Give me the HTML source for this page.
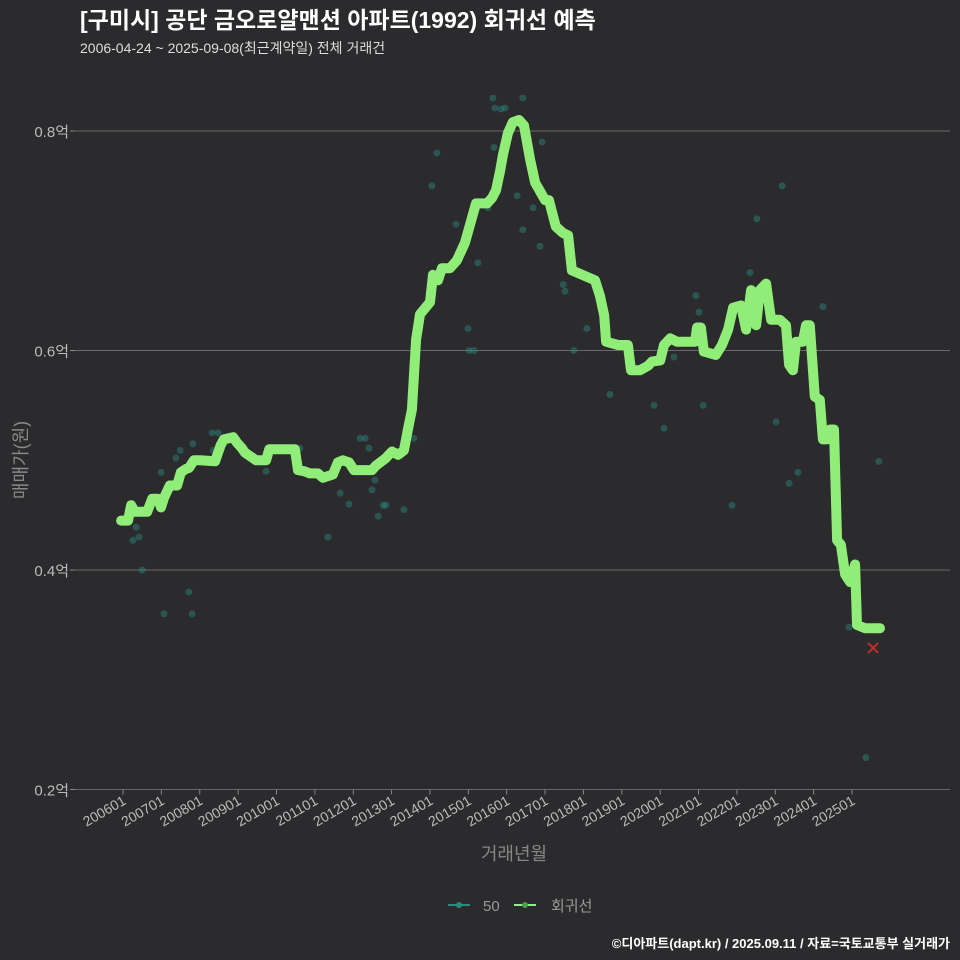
<!DOCTYPE html>
<html><head><meta charset="utf-8">
<style>
body{margin:0;background:#2b2a2c;}
svg{display:block;font-family:"Liberation Sans","Noto Sans CJK KR",sans-serif;}
</style></head>
<body>
<svg id="chart" width="960" height="960" viewBox="0 0 960 960">
<rect width="960" height="960" fill="#2b2a2c"/>
<text x="80" y="28" fill="#ffffff" font-size="23" font-weight="bold">[구미시] 공단 금오로얄맨션 아파트(1992) 회귀선 예측</text>
<text x="80" y="53" fill="#dddddd" font-size="14">2006-04-24 ~ 2025-09-08(최근계약일) 전체 거래건</text>
<g id="grid"></g><g id="axes"></g><g id="dots"></g><g id="line"></g><g id="marker"></g>
<text x="27" y="460" fill="#888" font-size="18" transform="rotate(-90 27 460)" text-anchor="middle">매매가(원)</text>
<text x="514" y="860" fill="#888" font-size="18" text-anchor="middle">거래년월</text>
<g>
<g><line x1="448" y1="905" x2="470" y2="905" stroke="#2a8a80" stroke-width="2"/><circle cx="459" cy="905" r="3" fill="#2a8a80"/><text x="483" y="911" fill="#999" font-size="15">50</text></g>
<g><line x1="514" y1="905" x2="536" y2="905" stroke="#90ee90" stroke-width="2"/><circle cx="525" cy="905" r="3" fill="#4e9a4e"/><text x="551" y="911" fill="#999" font-size="15">회귀선</text></g>
</g>
<text x="950" y="948" fill="#ffffff" font-size="13" font-weight="bold" text-anchor="end">©디아파트(dapt.kr) / 2025.09.11 / 자료=국토교통부 실거래가</text>
</svg>
<script>
const yTicks=[0.2,0.4,0.6,0.8];
const xTickYears=[2006,2007,2008,2009,2010,2011,2012,2013,2014,2015,2016,2017,2018,2019,2020,2021,2022,2023,2024,2025];
const lineYears=[2005.95,2006.13,2006.21,2006.31,2006.63,2006.76,2006.91,2006.99,2007.07,2007.22,2007.41,2007.51,2007.64,2007.72,2007.85,2008.01,2008.40,2008.55,2008.63,2008.87,2008.97,2009.10,2009.18,2009.47,2009.73,2009.81,2010.48,2010.56,2010.72,2010.87,2011.08,2011.21,2011.47,2011.60,2011.73,2011.89,2012.02,2012.07,2012.49,2012.59,2012.85,2013.01,2013.17,2013.32,2013.43,2013.53,2013.64,2013.74,2014.00,2014.08,2014.21,2014.31,2014.52,2014.70,2014.91,2015.20,2015.49,2015.62,2015.72,2015.83,2015.90,2016.03,2016.16,2016.32,2016.45,2016.61,2016.74,2017.00,2017.10,2017.28,2017.47,2017.60,2017.70,2018.30,2018.43,2018.54,2018.59,2018.90,2019.16,2019.24,2019.47,2019.68,2019.79,2020.00,2020.10,2020.26,2020.44,2020.91,2020.96,2021.06,2021.14,2021.45,2021.61,2021.77,2021.90,2022.11,2022.24,2022.37,2022.50,2022.60,2022.76,2022.89,2023.12,2023.28,2023.36,2023.46,2023.54,2023.72,2023.80,2023.90,2024.03,2024.16,2024.24,2024.35,2024.43,2024.53,2024.61,2024.71,2024.82,2024.95,2025.08,2025.13,2025.34,2025.73];
const lineValues=[0.445,0.445,0.459,0.453,0.453,0.465,0.465,0.457,0.466,0.477,0.477,0.489,0.492,0.493,0.500,0.500,0.499,0.514,0.519,0.521,0.516,0.511,0.507,0.500,0.500,0.510,0.510,0.491,0.490,0.488,0.488,0.484,0.487,0.498,0.500,0.498,0.491,0.491,0.491,0.495,0.502,0.508,0.505,0.509,0.529,0.546,0.610,0.633,0.644,0.669,0.664,0.675,0.675,0.682,0.698,0.734,0.734,0.739,0.746,0.764,0.778,0.798,0.808,0.810,0.805,0.774,0.753,0.737,0.737,0.713,0.707,0.705,0.673,0.664,0.650,0.632,0.608,0.605,0.605,0.582,0.582,0.586,0.590,0.591,0.605,0.611,0.608,0.608,0.621,0.621,0.599,0.596,0.605,0.619,0.639,0.641,0.619,0.655,0.623,0.655,0.661,0.628,0.628,0.623,0.587,0.582,0.608,0.608,0.623,0.623,0.558,0.555,0.519,0.519,0.528,0.528,0.427,0.423,0.396,0.389,0.405,0.350,0.347,0.347];
const dotYears=[2006.26,2006.34,2006.42,2006.50,2007.07,2006.99,2007.38,2007.49,2007.82,2008.32,2008.48,2008.35,2007.72,2007.80,2009.73,2010.61,2011.34,2011.66,2011.89,2012.18,2012.31,2012.41,2012.49,2012.57,2012.65,2012.78,2012.85,2013.32,2013.58,2014.05,2014.18,2014.68,2014.99,2015.02,2015.15,2015.25,2015.51,2015.64,2015.69,2015.85,2015.96,2015.67,2016.27,2016.42,2016.42,2016.69,2016.87,2016.92,2017.47,2017.52,2017.75,2018.09,2018.69,2019.84,2020.10,2020.36,2020.93,2021.01,2021.12,2021.87,2022.34,2022.52,2022.86,2023.02,2023.18,2023.36,2023.59,2024.24,2024.92,2025.36,2025.70];
const dotValues=[0.427,0.439,0.430,0.400,0.360,0.489,0.502,0.509,0.515,0.525,0.525,0.509,0.380,0.360,0.490,0.511,0.430,0.470,0.460,0.520,0.520,0.511,0.473,0.482,0.449,0.459,0.459,0.455,0.520,0.750,0.780,0.715,0.620,0.600,0.600,0.680,0.730,0.830,0.821,0.820,0.821,0.785,0.741,0.830,0.710,0.730,0.695,0.790,0.660,0.654,0.600,0.620,0.560,0.550,0.529,0.594,0.650,0.635,0.550,0.459,0.671,0.720,0.635,0.535,0.750,0.479,0.489,0.640,0.348,0.229,0.499];
const predictYear=2025.55, predictValue=0.329;

const NS='http://www.w3.org/2000/svg';
const X=yr=>123+(yr-2006)*38.37;
const Y=v=>131+(0.8-v)*1097.5;
function mk(tag,attrs,parent){const e=document.createElementNS(NS,tag);for(const k in attrs)e.setAttribute(k,attrs[k]);document.getElementById(parent).appendChild(e);return e;}
yTicks.forEach(t=>{
  if(t>0.2){const g=mk('line',{x1:75,x2:950,y1:Y(t),y2:Y(t),stroke:'#6a6a6a','stroke-width':1},'grid');
  
  }
  const tk=mk('line',{x1:70,x2:75,y1:Y(t),y2:Y(t),stroke:'#888'},'axes');
  
  
  const lb=mk('text',{x:69,y:Y(t)+6,fill:'#bbb','font-size':15,'text-anchor':'end'},'axes');
  lb.textContent=t.toFixed(1)+'억';
  
  
});
const ax=mk('line',{x1:75,x2:950,y1:Y(0.2),y2:Y(0.2),stroke:'#666'},'axes');


xTickYears.forEach(yr=>{
  const x=X(yr);
  const tk=mk('line',{x1:x,x2:x,y1:Y(0.2),y2:Y(0.2)+5,stroke:'#888'},'axes');
  
  
  const lb=mk('text',{x:x+4,y:Y(0.2)+14,fill:'#bbb','font-size':14,'text-anchor':'end',transform:`rotate(-30 ${x+4} ${Y(0.2)+14})`},'axes');
  lb.textContent=yr+'01';
  
  
});
dotYears.forEach((yr,i)=>{
  const c=mk('circle',{cx:X(yr),cy:Y(dotValues[i]),r:3.5,fill:'#2a8a80','fill-opacity':0.45},'dots');
  
  
});
const pts=lineYears.map((yr,i)=>X(yr).toFixed(1)+','+Y(lineValues[i]).toFixed(1)).join(' ');
const pl=mk('polyline',{points:pts,fill:'none',stroke:'#90ee78','stroke-width':10,'stroke-linejoin':'round','stroke-linecap':'round'},'line');


const px=X(predictYear),py=Y(predictValue);
const m=mk('path',{d:`M${px-5},${py-5}L${px+5},${py+5}M${px-5},${py+5}L${px+5},${py-5}`,stroke:'#c0302a','stroke-width':2},'marker');


</script>
</body></html>
